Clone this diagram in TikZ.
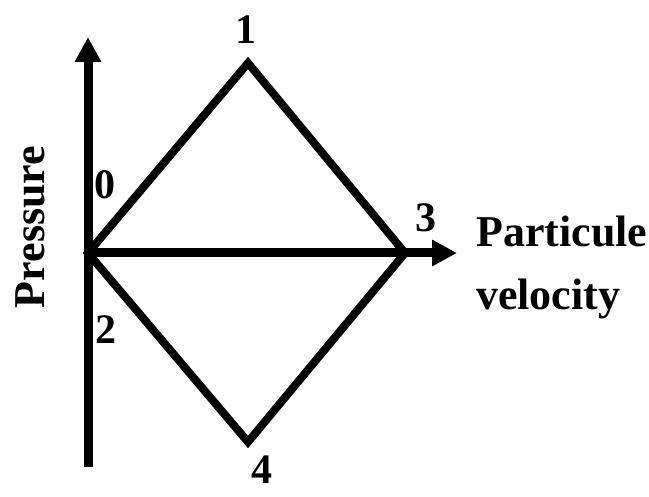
\documentclass[tikz,border=0pt]{standalone}
\usepackage{fontspec}
\setmainfont{Liberation Serif}
\usetikzlibrary{arrows.meta}

\tikzset{
  axis/.style={line width=9pt, -{Triangle[width=25pt,length=25pt]}},
  branch/.style={line width=8pt},
  pointlabel/.style={inner sep=0pt, font=\fontsize{42}{50}\selectfont\bfseries},
  axislabel/.style={inner sep=0pt, font=\fontsize{44}{52}\selectfont\bfseries}
}

\begin{document}
\begin{tikzpicture}[x=1pt, y=-1pt]
  \useasboundingbox (0,0) rectangle (649,497);

  % Axes
  \coordinate (origin) at (88,253);
  \coordinate (pbottom) at (88,467);
  \coordinate (ptop) at (88,37);
  \coordinate (vright) at (457,253);
  \draw[axis] (pbottom) -- (ptop);
  \draw[axis] (origin) -- (vright);

  % States
  \coordinate (s1) at (248,63);
  \coordinate (s3) at (405,253);
  \coordinate (s4) at (248,442);
  \draw[branch] (origin) -- (s1) -- (s3) -- (s4) -- cycle;

  % State labels
  \node[pointlabel] (l0) at (105,185) {0};
  \node[pointlabel] (l1) at (245.5,30) {1};
  \node[pointlabel] (l2) at (106,330) {2};
  \node[pointlabel] (l3) at (425.5,218) {3};
  \node[pointlabel] (l4) at (261.5,470) {4};

  % Axis labels
  \node[axislabel, rotate=90] (pressure) at (30,227) {Pressure};
  \node[axislabel, anchor=base west] (particule) at (476,247) {Particule};
  \node[axislabel, anchor=base west] (velocity) at (476,310) {velocity};
\end{tikzpicture}
\end{document}
